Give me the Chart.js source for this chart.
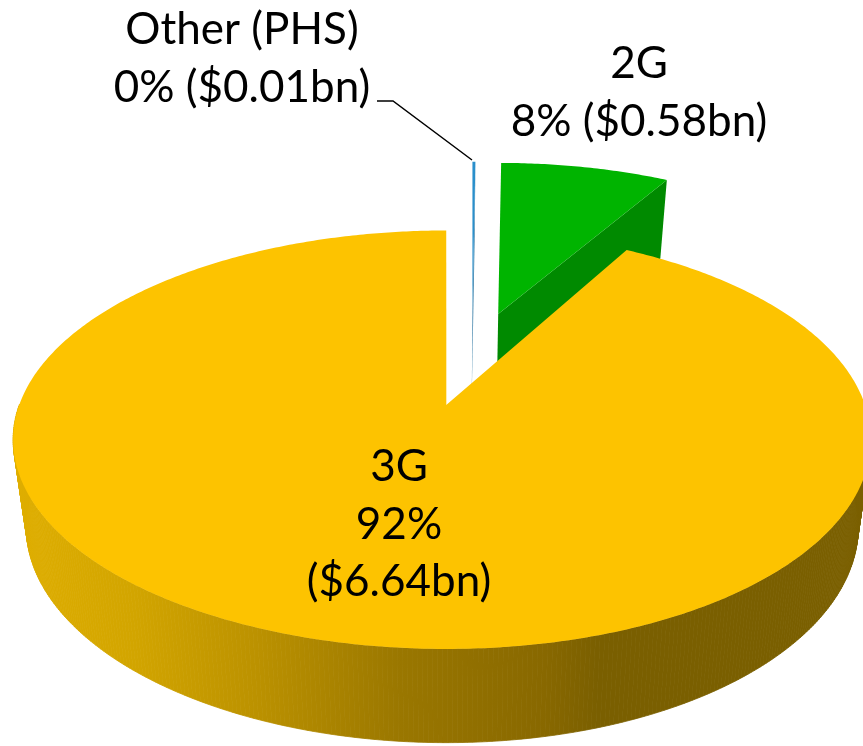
<!DOCTYPE html>
<html>
<head>
<meta charset="utf-8">
<title>Revenue by technology</title>
<script src="https://cdn.jsdelivr.net/npm/chart.js@4"></script>
<style>
    html, body { margin: 0; padding: 0; background: #ffffff; overflow: hidden; }
    canvas { display: block; }
</style>
</head>
<body>
<canvas id="pie3d" width="863" height="746"></canvas>
<script>
'use strict';

const categories = ['2G', '3G', 'Other (PHS)'];
const revenueBn = [0.58, 6.64, 0.01];
const labelLines = [
    ['2G', '8% ($0.58bn)'],
    ['3G', '92%', '($6.64bn)'],
    ['Other (PHS)', '0% ($0.01bn)'],
];

const topColors = ['#00B400', '#FDC300', '#2A8FCB'];
const faceColors = ['#008A00', '#FDC300', '#3A7FA8'];

/* Perspective used to lay the flat pie down on the page */
const VIEW = {
    x0: 472, y0: 357.6, a: 406.5, b: 188,
    persp: 0.16, skew: 0.0093, explode: 0.25,
    depthFlat: 46.4, depthNear: 37.9, baseScale: 0.97, baseX: 450,
};
const FONT = '44px Lato, Carlito, sans-serif';

function project(cosA, sinA, radius, mid, low) {
    const eu = VIEW.explode * Math.cos(mid);
    const ev = VIEW.explode * Math.sin(mid);
    const v = ev + radius * sinA;
    const w = 1 - VIEW.persp * v;
    const wx = w + VIEW.skew * radius * cosA;
    let x = VIEW.x0 + VIEW.a * (eu + radius * cosA / wx);
    let y = VIEW.y0 + VIEW.b * v / w;
    if (low) {
        x = VIEW.baseX + (x - VIEW.baseX) * VIEW.baseScale;
        y += VIEW.depthFlat + VIEW.depthNear / w;
    }
    return [x, y];
}

function tracePoints(ctx, pts) {
    ctx.beginPath();
    pts.forEach((p, i) => (i ? ctx.lineTo(p[0], p[1]) : ctx.moveTo(p[0], p[1])));
    ctx.closePath();
    ctx.fill();
}

function rimAngles(arc) {
    const steps = Math.max(2, Math.ceil((arc.endAngle - arc.startAngle) / 0.01));
    const angles = [];
    for (let i = 0; i <= steps; i++) {
        angles.push(arc.startAngle + (arc.endAngle - arc.startAngle) * i / steps);
    }
    return angles;
}

const pie3dPlugin = {
    id: 'pie3d',
    beforeDatasetsDraw(chart) {
        const ctx = chart.ctx;
        const arcs = chart.getDatasetMeta(0).data;

        const sideGrad = ctx.createLinearGradient(14, 0, 872, 0);
        sideGrad.addColorStop(0, '#DFAE00');
        sideGrad.addColorStop(0.14, '#D2A500');
        sideGrad.addColorStop(0.28, '#BC9200');
        sideGrad.addColorStop(0.45, '#9A7700');
        sideGrad.addColorStop(0.62, '#886800');
        sideGrad.addColorStop(0.68, '#7A5F00');
        sideGrad.addColorStop(1, '#7A5F00');

        // back slices first, the big one has to sit over them
        [0, 2, 1].forEach(i => {
            const arc = arcs[i];
            const mid = (arc.startAngle + arc.endAngle) / 2;
            const angles = rimAngles(arc);
            const top = angles.map(a => project(Math.cos(a), Math.sin(a), 1, mid, false));
            const low = angles.map(a => project(Math.cos(a), Math.sin(a), 1, mid, true));

            if (i === 1) {
                // rim goes quad by quad so the left and right silhouette stay filled,
                // the far half is hidden anyway
                ctx.fillStyle = sideGrad;
                ctx.strokeStyle = sideGrad;
                ctx.lineWidth = 0.8;
                for (let k = 0; k < top.length - 1; k++) {
                    if (Math.sin(angles[k]) < 0) continue;
                    tracePoints(ctx, [top[k], top[k + 1], low[k + 1], low[k]]);
                    ctx.stroke();
                }
            }

            // cut face along the closing edge
            const endTop = top[top.length - 1];
            const endLow = low[low.length - 1];
            ctx.fillStyle = faceColors[i];
            tracePoints(ctx, [project(0, 0, 0, mid, false), endTop, endLow, project(0, 0, 0, mid, true)]);

            ctx.fillStyle = topColors[i];
            tracePoints(ctx, [project(0, 0, 0, mid, false)].concat(top));
        });

        // leader line for the tiny slice
        ctx.strokeStyle = '#000000';
        ctx.lineWidth = 1.5;
        ctx.beginPath();
        ctx.moveTo(377, 101);
        ctx.lineTo(393, 101);
        ctx.lineTo(472, 160);
        ctx.stroke();

        // labels
        ctx.fillStyle = '#000000';
        ctx.font = FONT;
        ctx.textAlign = 'center';
        ctx.textBaseline = 'alphabetic';
        const anchors = [[639, 78], [399, 481], [242, 44]];
        labelLines.forEach((lines, i) => {
            lines.forEach((line, j) => ctx.fillText(line, anchors[i][0], anchors[i][1] + j * 57.5));
        });

        return false;
    },
};

new Chart(document.getElementById('pie3d').getContext('2d'), {
    type: 'pie',
    data: {
        labels: categories,
        datasets: [{ data: revenueBn, backgroundColor: topColors, borderWidth: 0 }],
    },
    options: {
        responsive: false,
        animation: false,
        rotation: 0.5,
        events: [],
        plugins: { legend: { display: false }, tooltip: { enabled: false } },
    },
    plugins: [pie3dPlugin],
});
</script>
</body>
</html>
